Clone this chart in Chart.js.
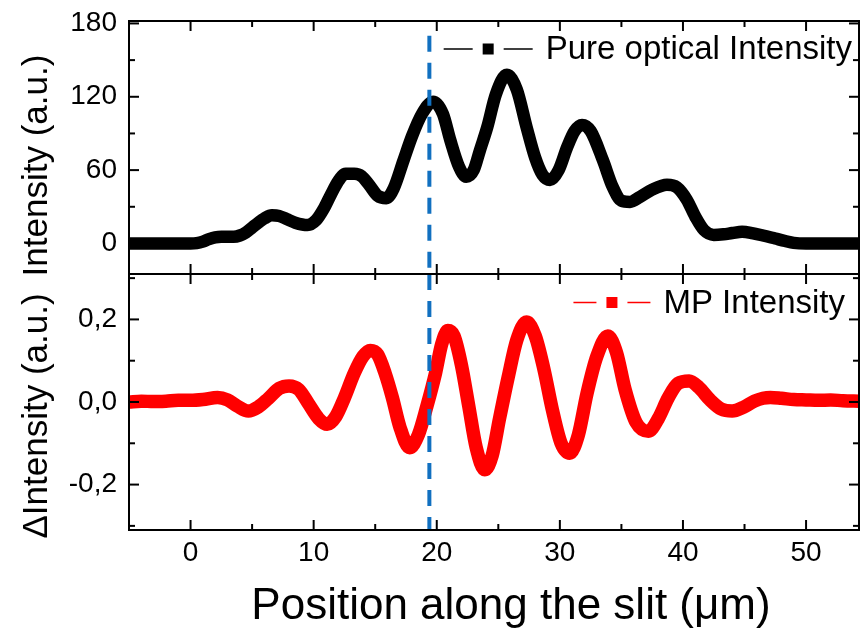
<!DOCTYPE html>
<html>
<head>
<meta charset="utf-8">
<script src="https://cdn.jsdelivr.net/npm/chart.js@4"></script>
<style>
  body { margin: 0; background: #fff; }
  .wrap { position: relative; width: 860px; height: 636px; overflow: hidden; }
  .wrap canvas { position: absolute; left: 0; }
</style>
</head>
<body>
<div class="wrap">
  <canvas id="topChart" width="860" height="280" style="top:0"></canvas>
  <canvas id="botChart" width="860" height="376" style="top:260px"></canvas>
</div>
<script>
// Pure optical intensity (top panel)
const opticalX = [-5, -4, -3, -2, -1, 0, 0.5, 1, 1.5, 2, 2.5, 3, 3.5, 4, 4.5, 5, 5.5, 6, 6.6, 7.2, 7.8, 8.5, 9.5,
  10.2, 10.8, 11.4, 12, 12.6, 13.3, 13.9, 14.5, 15.2, 15.9, 16.5, 17.3, 18, 18.8, 19.7, 20.5, 21.1, 21.8, 22.4,
  23, 23.5, 24.1, 24.8, 25.7, 26.5, 27.3, 28, 28.6, 29.2, 29.9, 30.6, 31.2, 31.8, 32.5, 33.5, 34.3, 35, 35.7,
  36.5, 37.5, 38.7, 39.5, 40.3, 41, 41.7, 42.5, 43.3, 44, 44.8, 45.6, 46.5, 47.5, 48.3, 49, 50, 51, 52, 53, 54.3];
const opticalY = [0, 0, 0, 0, 0, 0, 0.3, 1.5, 3.5, 5, 5.5, 5.5, 5.5, 6.5, 9, 13, 17, 20.5, 23, 22.5, 20, 17, 15,
  19, 28, 40, 51, 57, 57, 55, 48, 39, 37, 45, 68, 88, 106, 116, 106, 84.5, 63, 54.5,
  60, 76, 95, 122, 138, 126, 95, 70, 56, 52, 60, 79, 92, 97, 92, 68, 46, 35, 34,
  38, 44, 48, 46, 36, 22, 11, 7, 7.5, 8.5, 9.5, 8.5, 6.5, 4, 2, 0.5, 0, 0, 0, 0, 0];

// MP intensity (bottom panel)
const mpX = [-5, -4, -3, -2, -1, 0, 1, 2.2, 3, 3.8, 4.7, 5.5, 6.3, 7.2, 8, 8.8, 9.6, 10.4, 11.1, 11.8, 12.5, 13.3,
  14, 14.6, 15.2, 15.8, 16.4, 17, 17.8, 18.5, 19.2, 19.9, 20.4, 20.9, 21.4, 22, 22.6, 23.2, 23.9, 24.5, 25.1,
  25.8, 26.5, 27.3, 28, 28.7, 29.4, 30.1, 30.8, 31.5, 32.2, 33, 33.9, 34.6, 35.3, 36.2, 37.2, 38, 38.8, 39.6,
  40.5, 41.3, 42.2, 43.1, 44, 44.9, 45.8, 46.5, 47.1, 48, 49, 50, 51, 52, 53, 54.3];
const mpY = [0, 0.002, 0.001, 0.002, 0.004, 0.004, 0.006, 0.011, 0.005, -0.01, -0.022, -0.012, 0.008, 0.033, 0.039,
  0.03, -0.005, -0.04, -0.054, -0.035, 0.01, 0.07, 0.11, 0.125, 0.115, 0.07, 0.01, -0.06, -0.111, -0.08, -0.01,
  0.07, 0.14, 0.173, 0.16, 0.09, -0.01, -0.11, -0.164, -0.13, -0.04, 0.06, 0.15, 0.194, 0.16, 0.08, -0.02, -0.1,
  -0.124, -0.08, 0.02, 0.11, 0.16, 0.12, 0.03, -0.05, -0.071, -0.04, 0.01, 0.045, 0.051, 0.035, 0.005, -0.017,
  -0.022, -0.013, 0.002, 0.009, 0.011, 0.009, 0.006, 0.005, 0.004, 0.005, 0.003, 0.002];

// Vertical dashed marker
const markerX = 19.4;
const markerTopY = [170, -25];
const markerBotY = [0.31, -0.31];

const xRange = [-5, 54.3];
const topYRange = [-25, 182];
const botYRange = [-0.31, 0.31];

const FONT = '"Liberation Sans", Arial, sans-serif';
Chart.defaults.font.family = FONT;
Chart.defaults.color = '#000';

function pairs(xs, ys) {
  return xs.map((x, i) => ({ x: x, y: ys[i] }));
}

function line(ctx, x1, y1, x2, y2) {
  ctx.beginPath();
  ctx.moveTo(x1, y1);
  ctx.lineTo(x2, y2);
  ctx.stroke();
}

// Box frame with inward ticks on all four sides (Origin style)
const frameTicks = {
  id: 'frameTicks',
  afterDatasetsDraw(chart, args, opts) {
    const { ctx, chartArea: a, scales } = chart;
    ctx.save();
    ctx.strokeStyle = '#000';
    ctx.lineWidth = 2;
    ctx.strokeRect(a.left, a.top, a.right - a.left, a.bottom - a.top);
    const walk = (scale, minor, major, fn) => {
      const start = Math.ceil(scale.min / minor - 1e-9);
      for (let k = start; k * minor <= scale.max + 1e-9; k++) {
        const v = k * minor;
        const isMajor = Math.abs(v / major - Math.round(v / major)) < 1e-6;
        fn(v, isMajor ? 10 : 6);
      }
    };
    walk(scales.x, opts.xMinor, opts.xMajor, (v, len) => {
      const p = scales.x.getPixelForValue(v);
      line(ctx, p, a.bottom, p, a.bottom - len);
      line(ctx, p, a.top, p, a.top + len);
    });
    walk(scales.y, opts.yMinor, opts.yMajor, (v, len) => {
      const p = scales.y.getPixelForValue(v);
      line(ctx, a.left, p, a.left + len, p);
      line(ctx, a.right, p, a.right - len, p);
    });
    ctx.restore();
  }
};

// Legend drawn as  — ■ —  Label  at the top right of the plot
const sampleLegend = {
  id: 'sampleLegend',
  afterDraw(chart, args, opts) {
    const ds = chart.data.datasets[opts.index];
    const { ctx, chartArea: a } = chart;
    ctx.save();
    ctx.font = '33px ' + FONT;
    ctx.textAlign = 'left';
    ctx.textBaseline = 'middle';
    const w = ctx.measureText(ds.label).width;
    const t = a.right - opts.rightGap - w;
    const y = a.top + opts.dy;
    ctx.fillStyle = '#000';
    ctx.fillText(ds.label, t, y + 1);
    ctx.strokeStyle = ds.borderColor;
    ctx.fillStyle = ds.borderColor;
    ctx.lineWidth = 1.5;
    const L = opts.lineLen;
    line(ctx, t - 13 - L, y, t - 13, y);
    ctx.fillRect(t - 13 - L - 21, y - 5.5, 11, 11);
    line(ctx, t - 13 - L - 31 - L, y, t - 13 - L - 31, y);
    ctx.restore();
  }
};

// Axis titles, placed relative to the plot area
const axisTitles = {
  id: 'axisTitles',
  afterDraw(chart, args, opts) {
    const { ctx, chartArea: a } = chart;
    ctx.save();
    ctx.fillStyle = '#000';
    ctx.textAlign = 'center';
    ctx.textBaseline = 'middle';
    if (opts.y) {
      ctx.font = opts.y.size + 'px ' + FONT;
      ctx.translate(opts.y.cx, (a.top + a.bottom) / 2 + opts.y.dy);
      ctx.rotate(-Math.PI / 2);
      ctx.fillText(opts.y.text, 0, 0);
      ctx.setTransform(1, 0, 0, 1, 0, 0);
    }
    if (opts.x) {
      ctx.font = opts.x.size + 'px ' + FONT;
      ctx.fillText(opts.x.text, (a.left + a.right) / 2 + opts.x.dx, a.bottom + opts.x.dy);
    }
    ctx.restore();
  }
};

function curveDataset(label, xs, ys, color, width) {
  return {
    label: label,
    data: pairs(xs, ys),
    borderColor: color,
    backgroundColor: color,
    borderWidth: width,
    pointRadius: 0,
    fill: false,
    cubicInterpolationMode: 'monotone',
    borderJoinStyle: 'round',
    order: 1
  };
}

function markerDataset(ys) {
  return {
    label: 'marker',
    data: pairs([markerX, markerX], ys),
    borderColor: '#1170c0',
    borderWidth: 4,
    borderDash: [16, 11],
    pointRadius: 0,
    tension: 0,
    fill: false,
    order: 0
  };
}

const tickFont = { size: 28 };
const noPad = s => { s.width = 129; s.paddingTop = 0; s.paddingBottom = 0; };

// Top panel
new Chart(document.getElementById('topChart'), {
  type: 'line',
  data: {
    datasets: [
      curveDataset('Pure optical Intensity', opticalX, opticalY, '#000000', 12.5),
      markerDataset(markerTopY)
    ]
  },
  options: {
    responsive: false,
    animation: false,
    layout: { padding: { top: 21, right: 1, bottom: 6, left: 0 } },
    plugins: {
      legend: { display: false },
      tooltip: { enabled: false },
      frameTicks: { xMinor: 5, xMajor: 10, yMinor: 30, yMajor: 60 },
      sampleLegend: { index: 0, rightGap: 7, dy: 28, lineLen: 29 },
      axisTitles: { y: { text: 'Intensity (a.u.)', size: 35, cx: 37, dy: 18 } }
    },
    scales: {
      x: { type: 'linear', min: xRange[0], max: xRange[1], display: false },
      y: {
        min: topYRange[0],
        max: topYRange[1],
        grid: { display: false, drawTicks: false },
        border: { display: false },
        ticks: { stepSize: 60, includeBounds: false, font: tickFont, padding: 12 },
        afterFit: noPad
      }
    }
  },
  plugins: [frameTicks, sampleLegend, axisTitles]
});

// Bottom panel
new Chart(document.getElementById('botChart'), {
  type: 'line',
  data: {
    datasets: [
      curveDataset('MP Intensity', mpX, mpY, '#ff0000', 13.5),
      markerDataset(markerBotY)
    ]
  },
  options: {
    responsive: false,
    animation: false,
    layout: { padding: { top: 14, right: 1, bottom: 0, left: 0 } },
    plugins: {
      legend: { display: false },
      tooltip: { enabled: false },
      frameTicks: { xMinor: 5, xMajor: 10, yMinor: 0.1, yMajor: 0.2 },
      sampleLegend: { index: 0, rightGap: 14, dy: 28.5, lineLen: 23 },
      axisTitles: {
        y: { text: '\u0394Intensity (a.u.)', size: 35, cx: 37, dy: 14 },
        x: { text: 'Position along the slit (\u03bcm)', size: 44, dx: 17, dy: 77 }
      }
    },
    scales: {
      x: {
        type: 'linear',
        min: xRange[0],
        max: xRange[1],
        grid: { display: false, drawTicks: false },
        border: { display: false },
        ticks: { stepSize: 10, includeBounds: false, font: tickFont, padding: 6, maxRotation: 0 },
        afterFit: s => { s.height = 106; }
      },
      y: {
        min: botYRange[0],
        max: botYRange[1],
        grid: { display: false, drawTicks: false },
        border: { display: false },
        ticks: {
          stepSize: 0.2,
          includeBounds: false,
          font: tickFont,
          padding: 12,
          callback: v => (Math.abs(v) < 1e-9 ? 0 : v).toFixed(1).replace('.', ',')
        },
        afterFit: noPad
      }
    }
  },
  plugins: [frameTicks, sampleLegend, axisTitles]
});
</script>
</body>
</html>
